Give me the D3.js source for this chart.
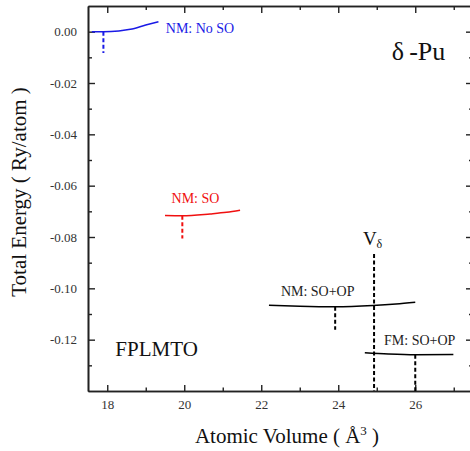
<!DOCTYPE html>
<html>
<head>
<meta charset="utf-8">
<script src="https://cdn.jsdelivr.net/npm/d3@7"></script>
<style>
    body { margin: 0; background: #fff; }
</style>
</head>
<body>
<div id="chart1"></div>
<script>
const width = 470;
const height = 451;
const serif = "'Liberation Serif', 'Times New Roman', Times, 'DejaVu Serif', serif";

// frame of the plot in pixels
const frame = { "left": 88, "right": 473, "top": 6, "bottom": 391 };

// curves: [atomic volume, total energy]
const nmNoSO = [[17.6, 0.0000], [17.9, 0.0000], [18.3, 0.0003], [18.6, 0.0009], [19.0, 0.0026], [19.33, 0.0039]];
const nmSO = [[19.5, -0.0716], [19.95, -0.0717], [20.67, -0.0710], [21.1, -0.0704], [21.45, -0.0696]];
const nmSOOP = [[22.2, -0.1066], [23.0, -0.1070], [23.92, -0.1072], [24.9, -0.1067], [25.5, -0.1061], [26.0, -0.1054]];
const fmSOOP = [[24.69, -0.1251], [25.3, -0.1256], [26.0, -0.1259], [26.99, -0.1258]];

// equilibrium volumes: volume, energy at top, energy at bottom of the dashed mark
const minima = [
    { "key": "nmNoSO", "v": 17.9, "e0": 0.0, "e1": -0.0083 },
    { "key": "nmSO", "v": 19.95, "e0": -0.0717, "e1": -0.0806 },
    { "key": "nmSOOP", "v": 23.92, "e0": -0.1072, "e1": -0.1161 },
    { "key": "fmSOOP", "v": 26.0, "e0": -0.1259, "e1": -0.14 }
];
const vDelta = { "v": 24.93, "e0": -0.0866, "e1": -0.14 };

// tick labels
const xMajor = [18, 20, 22, 24, 26];
const xMinor = [19, 21, 23, 25, 27];
const yMajor = [0.00, -0.02, -0.04, -0.06, -0.08, -0.10, -0.12];
const yMinor = [-0.01, -0.03, -0.05, -0.07, -0.09, -0.11, -0.13];

// curve labels placed in data units
const seriesLabels = [
    { "key": "nmNoSO", "text": "NM: No SO", "v": 19.52, "e": -0.0005 },
    { "key": "nmSO", "text": "NM: SO", "v": 19.67, "e": -0.0667 },
    { "key": "nmSOOP", "text": "NM: SO+OP", "v": 22.51, "e": -0.1031 },
    { "key": "fmSOOP", "text": "FM: SO+OP", "v": 25.19, "e": -0.1219 }
];

const colors = { "nmNoSO": "#1a1ae6", "nmSO": "#f01010", "nmSOOP": "#000", "fmSOOP": "#000" };
const curves = { "nmNoSO": nmNoSO, "nmSO": nmSO, "nmSOOP": nmSOOP, "fmSOOP": fmSOOP };


const svg = d3.select("#chart1").append("svg")
    .attr("width", width)
    .attr("height", height)
    .attr("font-family", serif)
    .style("font-family", serif);

const xScale = d3.scaleLinear().domain([17.5, 27.5]).range([frame.left, frame.right]);
const yScale = d3.scaleLinear().domain([-0.14, 0.01]).range([frame.bottom, frame.top]);

// axes, ticks pointing inwards on all four sides
const axisColor = "#222";
function styleAxis(sel) {
    sel.attr("font-family", serif);
    sel.select(".domain").attr("stroke", axisColor).attr("stroke-width", 1.6);
    sel.selectAll(".tick line").attr("stroke", axisColor).attr("stroke-width", 1.4);
    sel.selectAll(".tick text").attr("fill", "#333").attr("font-size", 13);
}

const axes = [
    { "gen": d3.axisBottom, "scale": xScale, "pos": `translate(0,${frame.bottom})`, "major": xMajor, "minor": xMinor, "labels": true, "maj": 6, "min": 3.5 },
    { "gen": d3.axisTop, "scale": xScale, "pos": `translate(0,${frame.top})`, "major": xMajor, "minor": xMinor, "labels": false, "maj": 7, "min": 4 },
    { "gen": d3.axisLeft, "scale": yScale, "pos": `translate(${frame.left},0)`, "major": yMajor, "minor": yMinor, "labels": true, "maj": 7, "min": 4 },
    { "gen": d3.axisRight, "scale": yScale, "pos": `translate(${frame.right},0)`, "major": yMajor, "minor": yMinor, "labels": false, "maj": 7, "min": 4 }
];

axes.forEach(a => {
    const isY = a.scale === yScale;
    svg.append("g")
        .attr("transform", a.pos)
        .call(a.gen(a.scale).tickValues(a.minor).tickSize(-a.min).tickSizeOuter(0).tickFormat(""))
        .call(styleAxis);
    svg.append("g")
        .attr("transform", a.pos)
        .call(a.gen(a.scale)
            .tickValues(a.major)
            .tickSize(-a.maj)
            .tickSizeOuter(0)
            .tickPadding(isY ? 11 : 9)
            .tickFormat(a.labels ? (isY ? d => d.toFixed(2) : d => d) : ""))
        .call(styleAxis);
});


// curves
const line = d3.line()
    .curve(d3.curveMonotoneX)
    .x(d => xScale(d[0]))
    .y(d => yScale(d[1]));

svg.selectAll("path.curve")
    .data(Object.keys(curves))
    .join("path")
    .attr("class", "curve")
    .attr("fill", "none")
    .attr("stroke", d => colors[d])
    .attr("stroke-width", 1.5)
    .attr("d", d => line(curves[d]));

// dashed equilibrium marks
svg.selectAll("line.minimum")
    .data(minima)
    .join("line")
    .attr("class", "minimum")
    .attr("x1", d => xScale(d.v))
    .attr("x2", d => xScale(d.v))
    .attr("y1", d => yScale(d.e0))
    .attr("y2", d => yScale(d.e1))
    .attr("stroke", d => colors[d.key])
    .attr("stroke-width", 2)
    .attr("stroke-dasharray", "4,2.5");

svg.append("line")
    .attr("x1", xScale(vDelta.v))
    .attr("x2", xScale(vDelta.v))
    .attr("y1", yScale(vDelta.e0))
    .attr("y2", yScale(vDelta.e1))
    .attr("stroke", "#000")
    .attr("stroke-width", 2)
    .attr("stroke-dasharray", "4,2.5");

// series labels
svg.selectAll("text.seriesLabel")
    .data(seriesLabels)
    .join("text")
    .attr("class", "seriesLabel")
    .attr("x", d => xScale(d.v))
    .attr("y", d => yScale(d.e))
    .attr("fill", d => colors[d.key] === "#000" ? "#222" : colors[d.key])
    .attr("font-size", 14)
    .text(d => d.text);

// V delta label
const vLabel = svg.append("text")
    .attr("x", xScale(24.64))
    .attr("y", yScale(-0.0831))
    .attr("fill", "#111")
    .attr("font-size", 19)
    .text("V");
vLabel.append("tspan").attr("font-size", 12).attr("dy", 3).text("δ");

svg.append("text")
    .attr("x", xScale(25.39))
    .attr("y", yScale(-0.011))
    .attr("fill", "#111")
    .attr("font-size", 26)
    .text("δ\u2009-Pu");

svg.append("text")
    .attr("x", xScale(18.21))
    .attr("y", yScale(-0.1264))
    .attr("fill", "#111")
    .attr("font-size", 21)
    .text("FPLMTO");

// axis titles
const xTitle = svg.append("text")
    .attr("x", 287)
    .attr("y", 443)
    .attr("text-anchor", "middle")
    .attr("fill", "#111")
    .attr("font-size", 21)
    .text("Atomic Volume ( Å");
xTitle.append("tspan").attr("font-size", 13).attr("dy", -8).text("3");
xTitle.append("tspan").attr("dy", 8).text(" )");

svg.append("text")
    .attr("transform", "translate(26,192) rotate(-90)")
    .attr("text-anchor", "middle")
    .attr("fill", "#111")
    .attr("font-size", 21)
    .text("Total Energy ( Ry/atom )");
</script>
</body>
</html>
